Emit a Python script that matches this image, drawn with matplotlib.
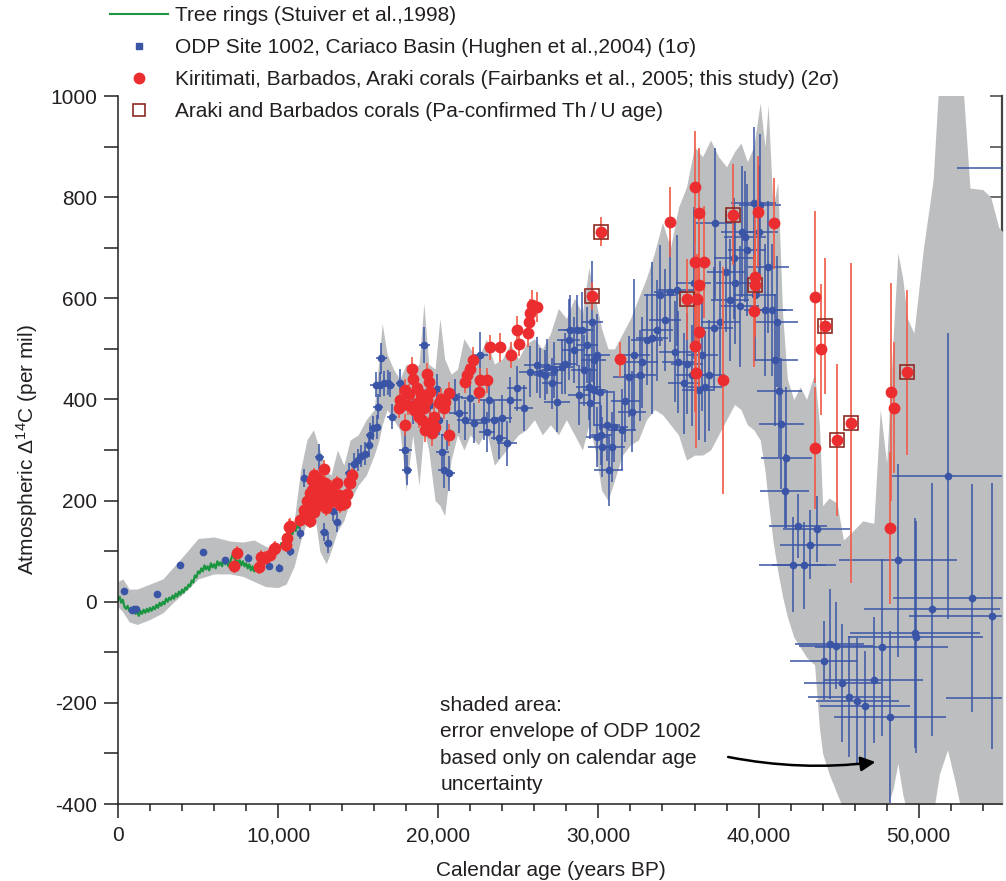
import numpy as np
import matplotlib
matplotlib.use("Agg")
import matplotlib.pyplot as plt
from matplotlib.lines import Line2D
from matplotlib.ticker import MultipleLocator, FuncFormatter

plt.rcParams['font.family'] = ['Liberation Sans', 'DejaVu Sans']
plt.rcParams['mathtext.default'] = 'regular'
plt.rcParams['axes.unicode_minus'] = False

# colours
GRAY = '#bcbec0'
GREEN = '#1b9640'
BLUE = '#3a55a6'
RED = '#ec2d30'
RED_ERR = '#f05a46'
BOX = '#8b2a22'
INK = '#231f20'

# tree rings (Stuiver et al. 1998), 100-yr steps
tree_age = list(range(0, 11900, 100))
tree_d14c = [2, 10, -2, 4, -10, -14, -8, -18, -12, -20, -16,
             -24, -20, -28, -18, -24, -16, -22, -14, -20, -12,
             -18, -10, -15, -6, -12, -2, -8, 0, -5, 6,
             0, 8, 4, 12, 6, 16, 10, 20, 14, 24,
             18, 28, 24, 34, 30, 42, 38, 52, 48, 60,
             56, 66, 60, 72, 64, 70, 62, 76, 68, 74,
             66, 80, 72, 78, 70, 84, 74, 80, 70, 78,
             88, 96, 80, 84, 74, 82, 72, 80, 70, 76,
             66, 74, 62, 70, 60, 68, 62, 72, 66, 78,
             72, 82, 76, 90, 84, 96, 92, 104, 98, 110,
             104, 116, 110, 124, 118, 132, 126, 140, 134, 146,
             140, 152, 146, 158, 152, 164, 158, 170]

# ODP 1002 error envelope (calendar age uncertainty only)
env_age = [0, 300, 700, 1200, 2000, 2800, 3500, 4200, 5000, 6000,
           7000, 7800, 8500, 9200, 10000, 10500, 11000, 11400, 11800, 12200,
           12600, 13000, 13300, 13700, 14100, 14500, 15000, 15500, 16000, 16300,
           16500, 16800, 17200, 17600, 18000, 18400, 18800, 19100, 19400, 19800,
           20100, 20400, 20800, 21200, 21600, 22000, 22500, 23000, 23500, 24000,
           24500, 25000, 25500, 26000, 26500, 27000, 27500, 28000, 28500, 29000,
           29400, 29800, 30200, 30600, 31000, 31500, 32000, 32500, 33000, 33500,
           34000, 34500, 35000, 35500, 36000, 36500, 37000, 37500, 38000, 38500,
           38900, 39300, 39700, 40100, 40400, 40600, 40900, 41200, 41500, 41800,
           42200, 42600, 43000, 43500, 43800, 44000, 44400, 44900, 45300, 45900,
           46500, 47200, 47600, 48000, 48400, 48700, 49000, 49300, 49700, 50300,
           50900, 51300, 51800, 52300, 52700, 53200, 54000, 54500, 55000, 55300]
env_lo = [-10, -20, -40, -45, -35, -22, 0, 20, 45, 55,
          55, 50, 40, 30, 28, 35, 70, 120, 160, 190,
          100, 75, 100, 140, 160, 200, 230, 250, 290, 320,
          350, 380, 360, 340, 220, 330, 230, 340, 300, 200,
          190, 170, 280, 330, 300, 330, 310, 340, 270, 290,
          310, 330, 340, 360, 330, 350, 330, 360, 330, 300,
          350, 300, 220, 200, 240, 290, 310, 320, 360, 380,
          370, 350, 330, 280, 290, 290, 300, 330, 360, 390,
          380, 350, 340, 320, 260, 200, 120, 60, 10, -30,
          -70, -90, -110, -125, -250, -300, -340, -380, -410, -420,
          -420, -420, -420, -410, -370, -320, -380, -420, -420, -420,
          -420, -340, -293, -360, -420, -420, -420, -420, -420, -420]
env_hi = [40, 45, 25, 25, 35, 45, 70, 95, 125, 128,
          120, 118, 122, 110, 100, 115, 160, 260, 320, 340,
          300, 260, 250, 300, 270, 320, 330, 360, 380, 480,
          550, 490, 460, 440, 470, 460, 470, 590, 470, 460,
          560, 480, 450, 460, 520, 500, 480, 520, 470, 480,
          510, 480, 510, 520, 500, 530, 580, 560, 600, 570,
          660, 600, 540, 500, 500, 530, 560, 600, 640, 690,
          750, 700, 780, 820, 900, 880, 913, 880, 860, 890,
          907, 870, 900, 986, 900, 982, 780, 830, 570, 440,
          400, 425, 400, 452, 350, 190, 205, 195, 122, 140,
          160, 155, 380, 274, 520, 690, 640, 560, 531, 700,
          834, 1050, 1050, 1050, 1050, 818, 815, 800, 740, 730]

# ODP Site 1002, Cariaco Basin (1 sigma)
odp_age = [360, 850, 1000, 1150, 2450, 3860, 5290, 6690, 8100, 9410,
           10080, 10770, 11350, 11640, 12580, 12850, 13100, 13450, 13680, 14400,
           14760, 15000, 15200, 15450, 15660, 15760, 15950, 16140, 16180, 16240,
           16390, 16450, 16590, 16840, 17010, 17110, 17640, 17950, 18050, 18400,
           18900, 19130, 19500, 19900, 20020, 20240, 20340, 20550, 20650, 21070,
           21270, 21690, 22000, 22210, 22630, 22830, 23040, 23150, 23460, 23770,
           23980, 24290, 24500, 24920, 25330, 25750, 26170, 26370, 26690, 26790,
           27100, 27200, 27420, 27730, 27930, 28140, 28250, 28450, 28660, 28770,
           28980, 29080, 29290, 29390, 29490, 29600, 29700, 29750, 29910, 29910,
           30120, 30160, 30220, 30540, 30640, 30850, 30950, 31470, 31680, 31890,
           32100, 32200, 32620, 32720, 33030, 33340, 33660, 33860, 34170, 34490,
           34900, 34800, 35000, 35320, 35530, 35840, 35940, 36250, 36460, 36670,
           36880, 37190, 37610, 37310, 37980, 38230, 38540, 38850, 38440, 38960,
           39170, 39280, 39690, 40100, 40000, 39790, 40420, 40830, 40620, 41150,
           41040, 41290, 41420, 41730, 41620, 42460, 43640, 43230, 42120, 42850,
           48700, 51820, 53320, 54600, 50820, 49780, 49800, 47700, 44430, 44830,
           44060, 47180, 45240, 45660, 46160, 46660, 48180, 57500, 56500]
odp_d14c = [21, -17, -15, -14, 15, 72, 98, 83, 87, 71,
            66, 100, 136, 245, 286, 138, 117, 180, 158, 255,
            272, 280, 288, 293, 310, 330, 344, 429, 346, 386,
            429, 481, 432, 433, 429, 366, 432, 300, 260, 380,
            400, 508, 390, 420, 359, 297, 260, 330, 254, 405,
            373, 359, 402, 353, 488, 359, 336, 399, 359, 323,
            363, 313, 399, 422, 383, 455, 468, 452, 448, 465,
            432, 458, 395, 465, 471, 518, 537, 498, 537, 409,
            537, 458, 508, 425, 392, 554, 478, 418, 488, 326,
            415, 330, 306, 349, 260, 306, 346, 340, 396, 445,
            376, 488, 448, 474, 518, 521, 537, 606, 557, 613,
            616, 494, 474, 432, 471, 448, 630, 419, 488, 425,
            448, 541, 554, 748, 653, 597, 630, 584, 679, 732,
            722, 696, 788, 785, 732, 606, 577, 577, 662, 554,
            478, 417, 352, 285, 219, 150, 144, 113, 73, 72,
            82, 249, 7, -29, -15, -62, -70, -90, -83, -87,
            -117, -155, -161, -188, -196, -206, -228, 858, -190]
odp_age_err = [60, 60, 60, 60, 60, 60, 60, 60, 80, 80,
               100, 100, 120, 150, 300, 250, 250, 250, 250, 250,
               300, 250, 250, 300, 250, 250, 250, 400, 250, 300,
               300, 350, 350, 300, 300, 300, 300, 400, 300, 300,
               300, 350, 300, 300, 300, 400, 350, 350, 400, 500,
               600, 500, 600, 500, 500, 600, 500, 700, 600, 500,
               600, 600, 700, 600, 600, 700, 800, 700, 700, 700,
               600, 700, 800, 700, 700, 700, 800, 700, 800, 700,
               700, 800, 700, 800, 700, 700, 800, 700, 800, 700,
               800, 700, 900, 800, 900, 800, 900, 900, 900, 1000,
               900, 1000, 1000, 1000, 1000, 1000, 1000, 1000, 1000, 1000,
               1200, 1000, 1000, 1000, 1000, 1000, 1100, 1000, 1000, 1100,
               1000, 1200, 1200, 1200, 1200, 1200, 1200, 1200, 1200, 1300,
               1300, 1200, 1400, 1300, 1200, 1300, 1300, 1300, 1300, 1300,
               1400, 1400, 1400, 1600, 1560, 1800, 2100, 1900, 2100, 2000,
               3700, 3500, 4900, 5200, 4260, 4060, 4200, 4160, 2180, 2300,
               2100, 3100, 2430, 2600, 2600, 2800, 3500, 5100, 4800]
odp_d14c_err = [6, 6, 6, 6, 6, 6, 6, 6, 8, 8,
                8, 10, 12, 18, 25, 18, 20, 20, 20, 20,
                22, 22, 22, 22, 24, 24, 24, 25, 24, 25,
                25, 30, 25, 25, 25, 25, 28, 35, 30, 28,
                30, 35, 30, 30, 30, 35, 35, 30, 35, 35,
                40, 40, 40, 40, 45, 40, 40, 45, 40, 40,
                45, 45, 45, 45, 45, 50, 55, 50, 50, 55,
                50, 55, 60, 55, 60, 80, 70, 65, 70, 60,
                75, 70, 75, 65, 70, 120, 80, 70, 80, 60,
                75, 60, 60, 70, 70, 70, 70, 80, 80, 80,
                80, 150, 90, 90, 90, 150, 100, 100, 100, 100,
                110, 100, 100, 100, 100, 100, 150, 100, 110, 110,
                110, 120, 120, 150, 120, 120, 120, 120, 120, 130,
                130, 130, 150, 140, 130, 130, 130, 130, 130, 130,
                130, 130, 130, 140, 74, 64, 66, 69, 94, 86,
                191, 283, 226, 263, 250, 227, 230, 175, 109, 86,
                78, 125, 117, 120, 125, 109, 170, 250, 200]

# Kiritimati, Barbados, Araki corals (2 sigma)
coral_age = [7230, 7440, 8790, 8900, 9210, 9520, 9730, 9830, 10460, 10560,
             10660, 10720, 11390, 11600, 11700, 11800, 11910, 12000, 12000, 12100,
             12120, 12220, 12250, 12300, 12330, 12400, 12450, 12530, 12550, 12640,
             12700, 12850, 12900, 12950, 13000, 13160, 13300, 13400, 13680, 13790,
             13890, 14000, 14200, 14300, 14410, 14510, 14620,
             17530, 17630, 17950, 17950, 18100, 18200, 18360, 18450, 18500, 18680,
             18680, 18780, 18900, 19000, 19090, 19200, 19300, 19300, 19400, 19510,
             19510, 19610, 19720, 19820, 20030, 20200, 20340, 20440, 20650, 20650,
             21690, 21800, 22000, 22170, 22520, 22580, 23040, 23250, 23830, 24540,
             24910, 25020, 25600, 25640, 25710, 25850, 26170,
             29600, 30180, 31370, 34490, 36050, 36250, 36050, 36570, 36250, 35530,
             36150, 36250, 36050, 36110, 37750, 38400, 39960, 39790, 39790, 39690,
             40940, 43540, 43540, 44120, 43890, 44890, 45770, 48280, 48430, 49260,
             48220]
coral_d14c = [71, 96, 69, 89, 87, 92, 105, 106, 112, 126,
              148, 150, 162, 181, 170, 200, 198, 215, 160, 240,
              221, 178, 250, 205, 234, 190, 245, 214, 240, 195,
              230, 263, 215, 234, 185, 207, 225, 200, 234, 211,
              191, 195, 195, 214, 237, 234, 250,
              383, 399, 419, 349, 390, 410, 461, 440, 380, 422,
              392, 366, 410, 360, 383, 340, 451, 399, 435, 415,
              353, 333, 366, 346, 392, 400, 383, 395, 412, 329,
              435, 448, 461, 478, 415, 438, 438, 503, 503, 488,
              537, 510, 531, 554, 570, 587, 583,
              605, 732, 479, 751, 820, 768, 672, 672, 626, 598,
              598, 534, 506, 453, 438, 765, 771, 643, 626, 575,
              748, 602, 304, 545, 499, 320, 354, 415, 384, 454,
              146]
coral_err = [14, 14, 14, 14, 14, 14, 14, 14, 14, 14,
             15, 15, 15, 15, 15, 15, 15, 15, 15, 15,
             15, 15, 15, 15, 15, 15, 15, 15, 15, 15,
             15, 18, 15, 15, 15, 15, 15, 15, 15, 15,
             15, 15, 15, 15, 15, 15, 15,
             20, 20, 22, 22, 20, 20, 22, 22, 20, 20,
             20, 22, 20, 25, 20, 25, 22, 22, 22, 22,
             25, 25, 25, 22, 22, 22, 22, 22, 22, 22,
             22, 22, 22, 25, 22, 25, 25, 25, 28, 25,
             28, 25, 28, 28, 28, 30, 30,
             28, 28, 35, 70, 110, 130, 100, 110, 120, 80,
             90, 110, 130, 150, 224, 100, 110, 120, 100, 110,
             90, 170, 120, 135, 130, 150, 316, 215, 130, 163,
             150]

# corals with Pa-confirmed Th/U age
pa_age = [29600, 30180, 35530, 38400, 39790, 44120, 44890, 45770, 49260]
pa_d14c = [605, 732, 598, 765, 626, 545, 320, 354, 454]

fig = plt.figure(figsize=(10.06, 8.81), dpi=100)
ax = fig.add_axes([0.1173, 0.0874, 0.8787, 0.8036])

ax.fill_between(env_age, env_lo, env_hi, color=GRAY, lw=0, zorder=1)
ax.plot(tree_age, tree_d14c, color=GREEN, lw=1.6, zorder=2)
ax.errorbar(odp_age, odp_d14c, xerr=odp_age_err, yerr=odp_d14c_err, fmt='o',
            ms=4.5, color=BLUE, ecolor=BLUE, elinewidth=1.1, capsize=0, zorder=3)
ax.errorbar(coral_age, coral_d14c, yerr=coral_err, fmt='none',
            ecolor=RED_ERR, elinewidth=1.2, capsize=0, zorder=4)
ax.plot(pa_age, pa_d14c, ls='none', marker='s', ms=10, mfc='none',
        mec=BOX, mew=1.2, zorder=5)
ax.plot(coral_age, coral_d14c, ls='none', marker='o', ms=8.5, color=RED,
        mec='none', zorder=6)

ax.set_xlim(0, 55200)
ax.set_ylim(-400, 1000)
ax.xaxis.set_major_locator(MultipleLocator(10000))
ax.xaxis.set_minor_locator(MultipleLocator(2000))
ax.xaxis.set_major_formatter(FuncFormatter(lambda v, p: f'{int(v):,}'))
ax.yaxis.set_major_locator(MultipleLocator(200))
ax.yaxis.set_minor_locator(MultipleLocator(100))

ax.spines['top'].set_visible(False)
ax.spines['right'].set_visible(False)
for s in ['left', 'bottom']:
    ax.spines[s].set_linewidth(1.1)
    ax.spines[s].set_color(INK)
ax.tick_params(which='both', direction='out', width=1.1, color=INK,
               labelsize=15, labelcolor=INK)
ax.tick_params(axis='x', which='major', length=10, pad=6)
ax.tick_params(axis='x', which='minor', length=5)
ax.tick_params(axis='y', which='both', length=10, pad=5)

sec = ax.secondary_yaxis('right')
sec.yaxis.set_major_locator(MultipleLocator(100))
sec.tick_params(direction='in', length=9, width=1.1, color='#444444',
                labelright=False)
sec.spines['right'].set_linewidth(1.6)
sec.spines['right'].set_color('#444444')

ax.set_xlabel('Calendar age (years BP)', fontsize=15, color=INK)
ax.xaxis.set_label_coords(0.49, -0.08)
ax.set_ylabel('Atmospheric \u0394$^{14}$C (per mil)', fontsize=15, color=INK)
ax.yaxis.set_label_coords(-0.088, 0.5)

ax.text(20130, -186, 'shaded area:\nerror envelope of ODP 1002\n'
        'based only on calendar age\nuncertainty',
        fontsize=15, color=INK, ha='left', va='top', linespacing=1.5)
ax.annotate('', xy=(47300, -317), xytext=(38100, -307),
            arrowprops=dict(arrowstyle='-|>', connectionstyle='arc3,rad=0.08',
                            color='black', lw=1.8, mutation_scale=22,
                            shrinkA=0, shrinkB=0))

handles = [
    Line2D([], [], color=GREEN, lw=1.5),
    Line2D([], [], ls='none', marker='s', ms=4.5, color=BLUE),
    Line2D([], [], ls='none', marker='o', ms=8.5, color=RED, mec='none'),
    Line2D([], [], ls='none', marker='s', ms=8, mfc='none', mec=BOX, mew=1.2),
]
labels = [
    'Tree rings (Stuiver et al.,1998)',
    'ODP Site 1002, Cariaco Basin (Hughen et al.,2004) (1\u03c3)',
    'Kiritimati, Barbados, Araki corals (Fairbanks et al., 2005; this study) (2\u03c3)',
    'Araki and Barbados corals (Pa-confirmed Th\u2009/\u2009U age)',
]
leg = ax.legend(handles, labels, loc='upper left',
                bbox_to_anchor=(0.1093, 0.993), bbox_transform=fig.transFigure,
                frameon=False, fontsize=15, borderpad=0, borderaxespad=0,
                handlelength=2.8, handletextpad=0.3, labelspacing=0.62)
for t in leg.get_texts():
    t.set_color(INK)
leg.set_zorder(10)

fig.savefig('out.png', dpi=100)
